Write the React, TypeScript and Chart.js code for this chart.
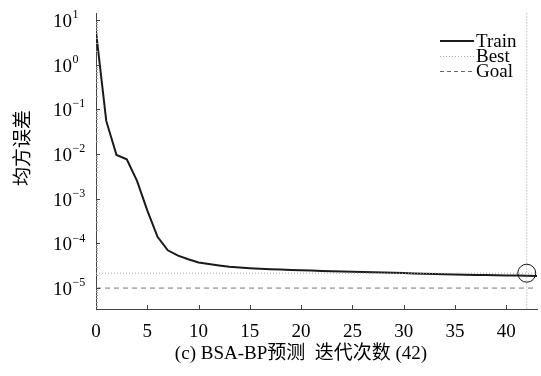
import React, { useEffect, useRef } from "react";
import { Chart, registerables } from "chart.js";

Chart.register(...registerables);

const epochs = [0,1,2,3,4,5,6,7,8,9,10,11,12,13,14,15,16,17,18,19,20,21,22,23,24,25,26,27,28,29,30,31,32,33,34,35,36,37,38,39,40,41,42,43];
const trainPerf = [5.5,0.055,0.0095,0.0076,0.0025,0.00055,0.00014,0.00007,0.000053,0.000044,
  0.0000375,0.0000345,0.000032,0.00003,0.0000288,0.0000278,0.000027,0.0000264,0.0000259,0.0000254,
  0.000025,0.0000246,0.0000242,0.0000238,0.0000234,0.0000231,0.0000228,0.0000225,0.0000222,0.0000219,
  0.0000216,0.0000213,0.000021,0.0000207,0.0000204,0.0000201,0.0000199,0.0000197,0.0000195,0.0000194,
  0.0000192,0.000019,0.0000188,0.0000187];
const bestEpoch = 42;
const bestPerf = 0.0000215;
const goalPerf = 0.00001;
const xTicks = [0,5,10,15,20,25,30,35,40];
const yPowers = [-5,-4,-3,-2,-1,0,1];
const yTitle = "均方误差";
const xTitle = "(c) BSA-BP预测  迭代次数 (42)";
const legendLabels = ["Train", "Best", "Goal"];

const SERIF = '"Liberation Serif", "Times New Roman", "Noto Sans CJK SC", serif';

export default function App() {
  const ref = useRef<HTMLCanvasElement | null>(null);
  useEffect(() => {
    if (!ref.current) return;
    const xMin = 0, xMax = 43;
    const decorPlugin = {
      id: "decor",
      afterDraw(chart: any) {
        const ctx = chart.ctx;
        const xs = chart.scales.x;
        const ys = chart.scales.y;
        const area = chart.chartArea;
        ctx.save();
        // best marker circle
        ctx.strokeStyle = "#111";
        ctx.lineWidth = 1;
        ctx.beginPath();
        ctx.arc(xs.getPixelForValue(bestEpoch), ys.getPixelForValue(bestPerf), 9, 0, Math.PI * 2);
        ctx.stroke();
        // inward ticks
        ctx.strokeStyle = "#444";
        ctx.beginPath();
        xTicks.forEach((t) => {
          const px = Math.round(xs.getPixelForValue(t)) + 0.5;
          ctx.moveTo(px, area.bottom);
          ctx.lineTo(px, area.bottom - 4);
        });
        yPowers.forEach((p) => {
          const py = Math.round(ys.getPixelForValue(Math.pow(10, p))) + 0.5;
          ctx.moveTo(area.left, py);
          ctx.lineTo(area.left + 4, py);
        });
        ctx.stroke();
        ctx.strokeStyle = "#999";
        ctx.beginPath();
        for (let p = -6; p <= 1; p++) {
          for (let m = 2; m <= 9; m++) {
            const v = m * Math.pow(10, p);
            if (v < ys.min || v > ys.max) continue;
            const py = Math.round(ys.getPixelForValue(v)) + 0.5;
            ctx.moveTo(area.left, py);
            ctx.lineTo(area.left + 2, py);
          }
        }
        ctx.stroke();
        // y tick labels
        ctx.fillStyle = "#000";
        ctx.textBaseline = "middle";
        yPowers.forEach((p) => {
          const py = ys.getPixelForValue(Math.pow(10, p));
          ctx.font = "19px " + SERIF;
          ctx.textAlign = "right";
          ctx.fillText("10", 72, py + 2);
          ctx.font = "12px " + SERIF;
          ctx.textAlign = "left";
          ctx.fillText(p < 0 ? "\u2212" + Math.abs(p) : String(p), 72.5, py - 5);
        });
        // titles
        ctx.font = "19px " + SERIF;
        ctx.textAlign = "center";
        ctx.fillText(xTitle, 301, 354);
        ctx.save();
        ctx.translate(24, 148);
        ctx.rotate(-Math.PI / 2);
        ctx.font = "19px " + SERIF;
        ctx.fillText(yTitle, 0, 0);
        ctx.restore();
        // legend
        const lx0 = 440, lx1 = 474;
        const rows = [41, 56, 71];
        ctx.textAlign = "left";
        ctx.font = "19px " + SERIF;
        ctx.strokeStyle = "#1a1a1a"; ctx.lineWidth = 2; ctx.setLineDash([]);
        ctx.beginPath(); ctx.moveTo(lx0, rows[0]); ctx.lineTo(lx1, rows[0]); ctx.stroke();
        ctx.strokeStyle = "#aaa"; ctx.lineWidth = 1; ctx.setLineDash([1, 2]);
        ctx.beginPath(); ctx.moveTo(lx0, rows[1] + 0.5); ctx.lineTo(lx1, rows[1] + 0.5); ctx.stroke();
        ctx.strokeStyle = "#666"; ctx.lineWidth = 1; ctx.setLineDash([4, 3]);
        ctx.beginPath(); ctx.moveTo(lx0, rows[2] + 0.5); ctx.lineTo(lx1, rows[2] + 0.5); ctx.stroke();
        ctx.setLineDash([]);
        legendLabels.forEach((l, i) => ctx.fillText(l, lx1 + 2, rows[i] + 1));
        ctx.restore();
      },
    };

    const chart = new Chart(ref.current, {
      type: "line",
      data: {
        datasets: [
          { label: "Best", data: [{ x: xMin, y: bestPerf }, { x: xMax, y: bestPerf }], borderColor: "#aaa", borderWidth: 1, borderDash: [1, 2], pointRadius: 0 },
          { label: "Goal", data: [{ x: xMin, y: goalPerf }, { x: xMax, y: goalPerf }], borderColor: "#777", borderWidth: 1, borderDash: [5, 4], pointRadius: 0 },
          { label: "BestV", data: [{ x: bestEpoch, y: 1e-7 }, { x: bestEpoch, y: 1e3 }], borderColor: "#999", borderWidth: 1, borderDash: [1, 2], pointRadius: 0 },
          { label: "Train", data: epochs.map((e, i) => ({ x: e, y: trainPerf[i] })), borderColor: "#1a1a1a", borderWidth: 2, pointRadius: 0, pointHoverRadius: 0, tension: 0 },
        ],
      },
      options: {
        animation: false,
        responsive: true,
        maintainAspectRatio: false,
        layout: { padding: { top: 13, right: 4, left: 0, bottom: 0 } },
        elements: { point: { radius: 0, hoverRadius: 0, hitRadius: 0 } },
        plugins: { legend: { display: false }, tooltip: { enabled: false } },
        scales: {
          x: {
            type: "linear",
            min: xMin,
            max: xMax,
            afterBuildTicks: (s: any) => { s.ticks = xTicks.map((v) => ({ value: v })); },
            afterFit: (s: any) => { s.height = 67; s.paddingLeft = 0; s.paddingRight = 0; },
            grid: { display: false, drawTicks: false },
            border: { display: true, color: "#444", width: 1 },
            ticks: { color: "#000", font: { family: SERIF, size: 19 }, padding: 12, maxRotation: 0 },
          },
          y: {
            type: "logarithmic",
            min: 3.4e-6,
            max: 14.3,
            afterBuildTicks: (s: any) => { s.ticks = yPowers.map((p) => ({ value: Math.pow(10, p) })); },
            afterFit: (s: any) => { s.width = 96; s.paddingTop = 0; s.paddingBottom = 0; },
            grid: { display: false, drawTicks: false },
            border: { display: true, color: "#444", width: 1 },
            ticks: { display: false },
          },
        },
      },
      plugins: [decorPlugin],
    });
    return () => chart.destroy();
  }, []);
  return (
    <div style={{ position: "fixed", left: 0, top: 0, width: 541, height: 376, background: "#fff" }}>
      <canvas ref={ref} />
    </div>
  );
}
